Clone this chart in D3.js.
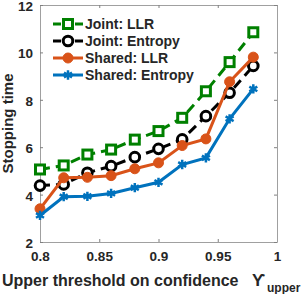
<!DOCTYPE html>
<html>
  <head>
    <meta charset="utf-8">
    <title>Stopping time</title>
    <script src="https://d3js.org/d3.v7.min.js"></script>
    <style>
      body { margin: 0; background: white; }
      text { font-family: "Liberation Sans", Arial, sans-serif; font-weight: bold; fill: #262626; }
    </style>
  </head>
  <body>
    <svg width="301" height="294"></svg>
    <script>
      var thresholds = [0.80, 0.82, 0.84, 0.86, 0.88, 0.90, 0.92, 0.94, 0.96, 0.98];
      var jointLLR = [5.06, 5.23, 5.69, 5.90, 6.32, 6.68, 7.24, 8.36, 9.59, 10.85];
      var jointEntropy = [4.38, 4.43, 4.92, 5.20, 5.58, 5.93, 6.33, 7.31, 8.30, 9.43];
      var sharedLLR = [3.40, 4.71, 4.73, 4.80, 5.09, 5.34, 6.07, 6.35, 8.76, 9.80];
      var sharedEntropy = [3.12, 3.91, 3.93, 4.05, 4.29, 4.52, 5.27, 5.55, 7.20, 8.46];
      var xTicks = [0.8, 0.85, 0.9, 0.95, 1];
      var yTicks = [2, 4, 6, 8, 10, 12];

      var series = [
        {name: "Joint: LLR", values: jointLLR, color: "#008000", dash: "10,6", marker: "square"},
        {name: "Joint: Entropy", values: jointEntropy, color: "#000000", dash: "10,6", marker: "circle"},
        {name: "Shared: LLR", values: sharedLLR, color: "#D95319", dash: null, marker: "dot"},
        {name: "Shared: Entropy", values: sharedEntropy, color: "#0072BD", dash: null, marker: "star"}
      ];

      var margin = {top: 5, right: 24, bottom: 52, left: 40},
          width = 301 - margin.left - margin.right,
          height = 294 - margin.top - margin.bottom;

      var svg = d3.select("svg")
        .append("g")
          .attr("transform", "translate(" + margin.left + "," + margin.top + ")");

      var x = d3.scaleLinear().domain([0.8, 1]).range([0, width]);
      var y = d3.scaleLinear().domain([2, 12]).range([height, 0]);

      // axis box with inward ticks
      function styleAxis(g) {
        g.select(".domain").attr("stroke", "#a0a0a0");
        g.selectAll(".tick line").attr("stroke", "#808080");
        g.selectAll(".tick text").attr("font-size", 13.5).attr("font-weight", "bold")
          .attr("fill", "#262626").attr("font-family", "Liberation Sans, Arial, sans-serif");
      }
      svg.append("g").attr("transform", "translate(0," + height + ")")
        .call(d3.axisBottom(x).tickValues(xTicks).tickSize(-3).tickSizeOuter(0).tickPadding(9)
          .tickFormat(function(d) { return d === 1 ? "1" : d3.format("")(d); }))
        .call(styleAxis);
      svg.append("g")
        .call(d3.axisTop(x).tickValues(xTicks).tickSize(-3).tickSizeOuter(0).tickFormat(""))
        .call(styleAxis);
      svg.append("g")
        .call(d3.axisLeft(y).tickValues(yTicks).tickSize(-3).tickSizeOuter(0).tickPadding(7))
        .call(styleAxis)
        .selectAll(".tick text").attr("dy", "0.4em");
      svg.append("g").attr("transform", "translate(" + width + ",0)")
        .call(d3.axisRight(y).tickValues(yTicks).tickSize(-3).tickSizeOuter(0).tickFormat(""))
        .call(styleAxis);

      var line = d3.line()
        .x(function(d, i) { return x(thresholds[i]); })
        .y(function(d) { return y(d); });

      function drawMarker(g, type, color) {
        if (type === "square") {
          g.append("rect").attr("x", -4.5).attr("y", -4.5).attr("width", 9).attr("height", 9)
            .attr("fill", "white").attr("stroke", color).attr("stroke-width", 3);
        } else if (type === "circle") {
          g.append("circle").attr("r", 4.8).attr("fill", "white")
            .attr("stroke", color).attr("stroke-width", 3);
        } else if (type === "dot") {
          g.append("circle").attr("r", 5).attr("fill", color).attr("stroke", color).attr("stroke-width", 1);
        } else {
          g.append("path").attr("d", d3.symbol().type(d3.symbolAsterisk).size(60)())
            .attr("stroke", color).attr("stroke-width", 2.5).attr("fill", "none");
        }
      }

      series.forEach(function(s) {
        svg.append("path")
          .datum(s.values)
          .attr("fill", "none")
          .attr("stroke", s.color)
          .attr("stroke-width", 3)
          .attr("stroke-dasharray", s.dash)
          .attr("d", line);
        svg.selectAll(null)
          .data(s.values)
          .enter().append("g")
          .attr("transform", function(d, i) { return "translate(" + x(thresholds[i]) + "," + y(d) + ")"; })
          .each(function() { drawMarker(d3.select(this), s.marker, s.color); });
      });

      // legend
      var legend = svg.append("g").attr("transform", "translate(13,19)");
      series.forEach(function(s, i) {
        var row = legend.append("g").attr("transform", "translate(0," + (i * 17) + ")");
        row.append("line").attr("x1", 0).attr("x2", 30).attr("y1", 0).attr("y2", 0)
          .attr("stroke", s.color).attr("stroke-width", 3)
          .attr("stroke-dasharray", s.dash ? "8,3" : null);
        drawMarker(row.append("g").attr("transform", "translate(15,0)"), s.marker, s.color);
        row.append("text").attr("x", 32).attr("y", 5).attr("font-size", 14).text(s.name);
      });

      // axis labels
      svg.append("text")
        .attr("transform", "translate(-27," + (height / 2) + ") rotate(-90)")
        .attr("text-anchor", "middle")
        .attr("font-size", 15)
        .text("Stopping time");

      svg.append("text")
        .attr("x", -38).attr("y", height + 44)
        .attr("font-size", 16)
        .text("Upper threshold on confidence");
      svg.append("text")
        .attr("x", 212).attr("y", height + 44)
        .attr("font-size", 17)
        .attr("font-weight", "normal")
        .attr("font-family", "DejaVu Serif, serif")
        .text("\u03D2");
      svg.append("text")
        .attr("x", 227).attr("y", height + 50)
        .attr("font-size", 12)
        .text("upper");
    </script>
  </body>
</html>
